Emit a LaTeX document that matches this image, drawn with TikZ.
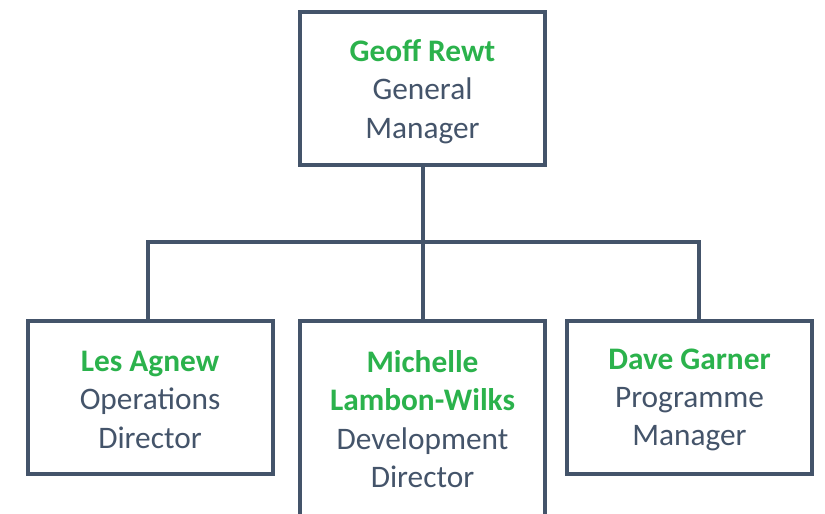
\documentclass[tikz,border=0pt]{standalone}
\usepackage{fontspec}
\setmainfont{Carlito}
\definecolor{slate}{HTML}{44546A}
\definecolor{leafgreen}{HTML}{2BB24C}
\begin{document}
\begin{tikzpicture}[x=0.75pt,y=-0.75pt,
  box/.style={draw=slate,line width=3pt,fill=white,rectangle,inner sep=0pt,
    minimum width=245*0.75pt,minimum height=153*0.75pt},
  label/.style={inner sep=0pt,align=center,text=slate,
    font=\fontsize{23.5pt}{28.8pt}\selectfont},
  link/.style={draw=slate,line width=3pt}]
\useasboundingbox (0,0) rectangle (825,514);
\clip (0,0) rectangle (825,514);
\newcommand{\nm}[1]{{\bfseries\color{leafgreen}#1}}
\node[box] (gm) at (422.5,88.5) {};
\node[box] (les) at (150,397.5) {};
\node[box,minimum height=195*0.75pt] (mich) at (422.5,418.5) {};
\node[box] (dave) at (689.5,397.5) {};
\node[label] (gmt) at ([yshift=-2.2pt]gm.center) {\nm{Geoff Rewt}\\General\\Manager};
\node[label] (lest) at ([yshift=-1.8pt]les.center) {\nm{Les Agnew}\\Operations\\Director};
\node[label] (micht) at ([yshift=-0.5pt]mich.center) {\nm{Michelle}\\\nm{Lambon-Wilks}\\Development\\Director};
\node[label] (davet) at ([yshift=-1.8pt]dave.center) {\nm{Dave Garner}\\Programme\\Manager};
\coordinate (jm) at (422.5,242);
\coordinate (jl) at (148,242);
\coordinate (jr) at (699,242);
\draw[link] (gm.south) -- (jm);
\draw[link,line join=miter] (jl |- les.north) -- (jl) -- (jr) -- (jr |- dave.north);
\draw[link] (jm) -- (mich.north);
\end{tikzpicture}
\end{document}
